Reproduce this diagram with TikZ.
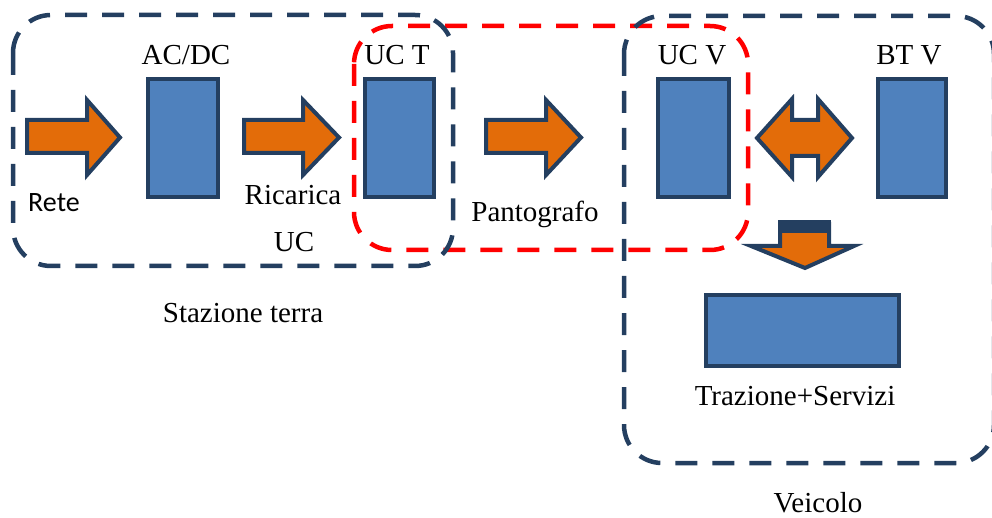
\documentclass[tikz,border=0pt]{standalone}
\usepackage{fontspec}
\setmainfont{Liberation Serif}
\newfontfamily\calfont{Carlito}
\definecolor{navyL}{HTML}{243F60}
\definecolor{blueF}{HTML}{4F81BD}
\definecolor{orangeF}{HTML}{E36C09}
\definecolor{redL}{HTML}{FF0000}
\begin{document}
\begin{tikzpicture}[x=1pt,y=-1pt,
  grp/.style={draw=navyL, line width=4.5pt, dash pattern=on 22pt off 15pt, rounded corners=38pt},
  redgrp/.style={draw=redL, line width=4.5pt, dash pattern=on 22pt off 15pt, rounded corners=38pt},
  blk/.style={draw=navyL, fill=blueF, line width=4pt, inner sep=0pt},
  arr/.style={draw=navyL, fill=orangeF, line width=4pt, line join=miter},
  lbl/.style={font=\fontsize{29}{33}\selectfont, anchor=base, inner sep=0pt}]
\useasboundingbox (0,0) rectangle (992,518);
\begin{scope}
\clip (0,0) rectangle (992,518);
% groups
\draw[redgrp] (354,26) rectangle (748,250);
\draw[grp] (13,15) rectangle (453,266);
\draw[grp] (624,16) rectangle (994,463);
\end{scope}
% blocks
\node[blk, minimum width=70, minimum height=118] (acdc) at (183,138) {};
\node[blk, minimum width=69, minimum height=118] (uct) at (399.5,138) {};
\node[blk, minimum width=71, minimum height=118] (ucv) at (693.5,138) {};
\node[blk, minimum width=68, minimum height=118] (btv) at (912,138) {};
\node[blk, minimum width=193, minimum height=71] (ts) at (802.5,330.5) {};
% arrows
\draw[arr] (27,120) -- (87,120) -- (87,100) -- (120,137.5) -- (87,175) -- (87,153) -- (27,153) -- cycle;
\draw[arr] (244,120) -- (303,120) -- (303,100) -- (339,137.5) -- (303,175) -- (303,153) -- (244,153) -- cycle;
\draw[arr] (486,120) -- (546,120) -- (546,100) -- (581,137.5) -- (546,175) -- (546,153) -- (486,153) -- cycle;
\draw[arr] (757,138) -- (792,99) -- (792,120) -- (818,120) -- (818,99) -- (852,138) -- (818,177) -- (818,156) -- (792,156) -- (792,177) -- cycle;
\draw[arr] (780,224) -- (829,224) -- (829,246) -- (854,246) -- (805,268) -- (751,246) -- (780,246) -- cycle;
\fill[navyL] (778,220) rectangle (831,233);
% labels
\node[lbl] (l1) at (186,65) {AC/DC};
\node[lbl] (l2) at (397,65) {UC T};
\node[lbl] (l3) at (692,65) {UC V};
\node[lbl] (l4) at (909,65) {BT V};
\node[lbl, font=\calfont\fontsize{28}{32}\selectfont] (l5) at (54,212) {Rete};
\node[lbl] (l6) at (293,205) {Ricarica};
\node[lbl] (l7) at (294,252) {UC};
\node[lbl] (l8) at (535,222) {Pantografo};
\node[lbl] (l9) at (243,322) {Stazione terra};
\node[lbl] (l10) at (795,405) {Trazione+Servizi};
\node[lbl] (l11) at (818,512) {Veicolo};
\end{tikzpicture}
\end{document}
